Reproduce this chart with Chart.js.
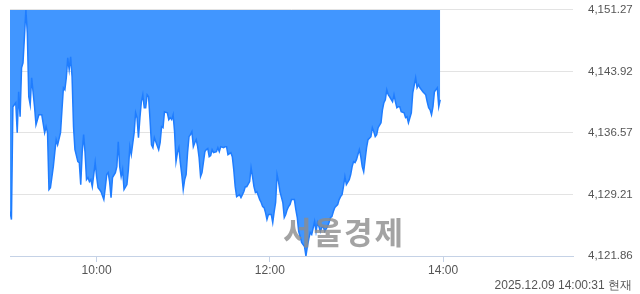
<!DOCTYPE html>
<html>
<head>
<meta charset="utf-8">
<script src="https://cdn.jsdelivr.net/npm/chart.js@4/dist/chart.umd.min.js"></script>
<style>
html,body{margin:0;padding:0;background:#fff;}
#wrap{position:relative;width:640px;height:294px;}
</style>
</head>
<body>
<div id="wrap"><canvas id="c" width="640" height="294"></canvas></div>
<script>
const times = ["09:00","09:01","09:02","09:04","09:05","09:06","09:07","09:08","09:09","09:10","09:11","09:12","09:13","09:14","09:15","09:17","09:18","09:19","09:20","09:22","09:24","09:25","09:26","09:27","09:28","09:30","09:31","09:32","09:33","09:35","09:36","09:37","09:38","09:39","09:40","09:41","09:42","09:43","09:44","09:45","09:47","09:48","09:49","09:50","09:51","09:52","09:53","09:54","09:55","09:56","09:57","09:59",
"10:00","10:01","10:02","10:03","10:05","10:06","10:07","10:08","10:09","10:10","10:11","10:13","10:14","10:15","10:16","10:17","10:18","10:19","10:21","10:22","10:23","10:24","10:26","10:27","10:28","10:29","10:30","10:31","10:32","10:33","10:34","10:35","10:36","10:37","10:38","10:39","10:40","10:41","10:43","10:44","10:45","10:46","10:47","10:49","10:50","10:51","10:52","10:53","10:54","10:55","10:56","10:57","10:58","10:59",
"11:00","11:01","11:02","11:03","11:04","11:05","11:06","11:07","11:08","11:09","11:10","11:11","11:12","11:13","11:15","11:16","11:17","11:18","11:19","11:20","11:21","11:23","11:24","11:25","11:26","11:28","11:29","11:30","11:31","11:33","11:34","11:35","11:36","11:37","11:39","11:40","11:41","11:42","11:43","11:44","11:46","11:47","11:48","11:49","11:50","11:51","11:53","11:54","11:55","11:56","11:57","11:58","11:59",
"12:01","12:02","12:03","12:04","12:05","12:06","12:07","12:09","12:10","12:11","12:12","12:13","12:14","12:15","12:17","12:18","12:19","12:20","12:21","12:22","12:24","12:25","12:26","12:27","12:28","12:29","12:31","12:32","12:33","12:34","12:35","12:36","12:37","12:38","12:40","12:41","12:42","12:43","12:44","12:45","12:47","12:48","12:49","12:50","12:51","12:52","12:53","12:55","12:56","12:57","12:58","12:59",
"13:00","13:02","13:03","13:04","13:05","13:06","13:07","13:08","13:10","13:11","13:12","13:13","13:14","13:15","13:17","13:18","13:19","13:20","13:21","13:22","13:23","13:25","13:26","13:27","13:28","13:29","13:30","13:31","13:33","13:34","13:35","13:36","13:37","13:38","13:39","13:41","13:42","13:43","13:44","13:45","13:46","13:48","13:49","13:50","13:51","13:52","13:53","13:54","13:56","13:57","13:58"];
const values = [4127.17,4126.22,4139.70,4140.18,4136.60,4141.49,4138.50,4144.35,4144.95,4148.05,4151.27,4148.53,4140.89,4139.94,4143.16,4139.70,4137.55,4138.15,4138.74,4138.74,4136.60,4137.31,4136.60,4129.80,4130.03,4132.54,4134.21,4135.76,4135.16,4136.60,4139.34,4141.96,4141.73,4143.16,4145.54,4144.11,4145.66,4143.28,4137.31,4134.57,4133.14,4133.02,4130.39,4134.21,4136.36,4134.21,4130.99,4131.23,4130.75,4130.99,4130.15,4133.02,
4131.35,4130.03,4129.80,4129.56,4128.60,4130.03,4131.59,4131.82,4130.75,4128.84,4131.23,4131.82,4132.54,4135.52,4132.54,4131.35,4132.18,4129.80,4130.39,4132.18,4134.93,4133.97,4136.60,4138.98,4138.39,4136.00,4138.39,4140.29,4141.13,4139.58,4139.58,4141.13,4140.89,4138.15,4135.16,4134.81,4136.00,4135.52,4134.57,4135.40,4137.31,4137.19,4139.10,4138.98,4138.15,4138.39,4138.15,4138.74,4136.72,4133.14,4134.21,4134.81,4133.02,4131.59,
4129.80,4130.99,4131.59,4134.21,4136.12,4136.36,4136.72,4134.93,4135.40,4135.76,4134.93,4133.61,4131.35,4131.82,4134.33,4134.57,4134.69,4133.73,4133.85,4134.57,4134.21,4134.33,4134.81,4134.33,4134.93,4134.81,4134.93,4134.93,4133.97,4134.21,4133.73,4132.18,4130.15,4128.96,4129.20,4128.84,4129.20,4129.56,4130.15,4130.15,4130.75,4132.42,4131.35,4130.15,4129.44,4129.56,4128.60,4128.25,4127.77,4127.65,4127.05,4126.22,4126.81,
4126.81,4125.86,4127.17,4128.25,4131.59,4130.75,4129.56,4128.25,4126.46,4126.81,4127.41,4127.77,4128.01,4128.60,4128.60,4127.41,4126.46,4124.79,4124.19,4123.47,4123.00,4121.86,4123.00,4123.95,4124.67,4124.43,4125.98,4124.79,4125.86,4125.38,4124.79,4125.26,4125.38,4124.79,4125.38,4125.86,4126.46,4126.57,4127.17,4127.65,4128.01,4128.60,4128.96,4129.20,4130.15,4131.35,4130.39,4130.99,4131.59,4132.54,4133.14,4133.02,
4133.37,4134.57,4133.73,4132.54,4131.94,4133.37,4134.81,4135.76,4136.12,4137.19,4136.72,4136.12,4136.36,4137.19,4137.79,4139.34,4140.18,4140.53,4141.73,4141.13,4140.89,4140.29,4141.13,4140.29,4139.58,4139.70,4139.70,4139.10,4138.98,4138.39,4138.50,4137.79,4138.39,4138.98,4141.37,4143.16,4141.96,4142.32,4141.96,4141.73,4141.49,4141.13,4140.29,4139.58,4139.34,4138.74,4139.70,4141.49,4141.96,4139.70,4140.53];
const yTicks = [4121.86, 4129.21, 4136.57, 4143.92, 4151.27];
const xTickLabels = ["10:00", "12:00", "14:00"];
const sessionStart = "09:00";
const sessionEnd = "15:30";
const stamp = "2025.12.09 14:00:31 현재";
const watermark = "서울경제";

function toMin(s){const p=s.split(':');return (+p[0])*60+(+p[1]);}
const t0 = toMin(sessionStart);
const points = times.map((t,i)=>({x: toMin(t)-t0, y: values[i]}));
const xTickVals = xTickLabels.map(l=>toMin(l)-t0);

function fmtTime(m){const tot=m+t0;const h=Math.floor(tot/60), mm=tot%60;return String(h).padStart(2,'0')+':'+String(mm).padStart(2,'0');}

const textPlugin = {
  id:'extraText',
  afterDatasetsDraw(chart){
    const ctx=chart.ctx;
    ctx.save();
    ctx.font='bold 31px "Noto Sans CJK KR"';
    try{ctx.letterSpacing='2px';}catch(e){}
    ctx.fillStyle='rgba(140,140,140,0.8)';
    ctx.textAlign='left';ctx.textBaseline='middle';
    ctx.fillText(watermark, 283, 232);
    ctx.restore();
  },
  afterDraw(chart){
    const ctx=chart.ctx;
    ctx.save();
    ctx.font='12px "Liberation Sans", Arial, sans-serif';
    ctx.fillStyle='#555';
    ctx.textAlign='right';ctx.textBaseline='middle';
    ctx.fillText(stamp, 632, 286);
    ctx.restore();
  }
};

new Chart(document.getElementById('c'), {
  type:'line',
  data:{datasets:[{
    data: points,
    borderColor:'#1f7dff',
    borderWidth:1.5,
    backgroundColor:'#4196ff',
    fill:'end',
    pointRadius:0,
    tension:0
  }]},
  options:{
    responsive:false,
    animation:false,
    events:[],
    layout:{padding:{left:10,top:0,right:0,bottom:0}},
    plugins:{legend:{display:false},tooltip:{enabled:false}},
    scales:{
      x:{
        type:'linear',
        min:0,
        max: toMin(sessionEnd)-t0,
        afterBuildTicks(s){ s.ticks = xTickVals.map(v=>({value:v})); },
        afterFit(s){ s.height = 38; },
        ticks:{
          callback:(v)=>fmtTime(v),
          font:{family:'"Liberation Sans", Arial, sans-serif', size:12},
          color:'#555',
          padding:1,
          maxRotation:0,
          autoSkip:false
        },
        grid:{drawOnChartArea:false, drawTicks:true, tickLength:6, color:'#c5d2e6'},
        border:{display:true, color:'#c5d2e6', width:1}
      },
      y:{
        position:'right',
        min: yTicks[0],
        max: yTicks[yTicks.length-1],
        afterBuildTicks(s){ s.ticks = yTicks.map(v=>({value:v})); },
        afterFit(s){ s.width = 67; },
        ticks:{
          callback:(v)=>v.toLocaleString('en-US',{minimumFractionDigits:2,maximumFractionDigits:2}),
          font:{family:'"Liberation Sans", Arial, sans-serif', size:11.5},
          color:'#555',
          padding:3
        },
        grid:{color:'#e3e3e3', drawTicks:true, tickLength:12, tickColor:'rgba(0,0,0,0)', lineWidth:1},
        border:{display:false}
      }
    }
  },
  plugins:[textPlugin]
});
</script>
</body>
</html>
